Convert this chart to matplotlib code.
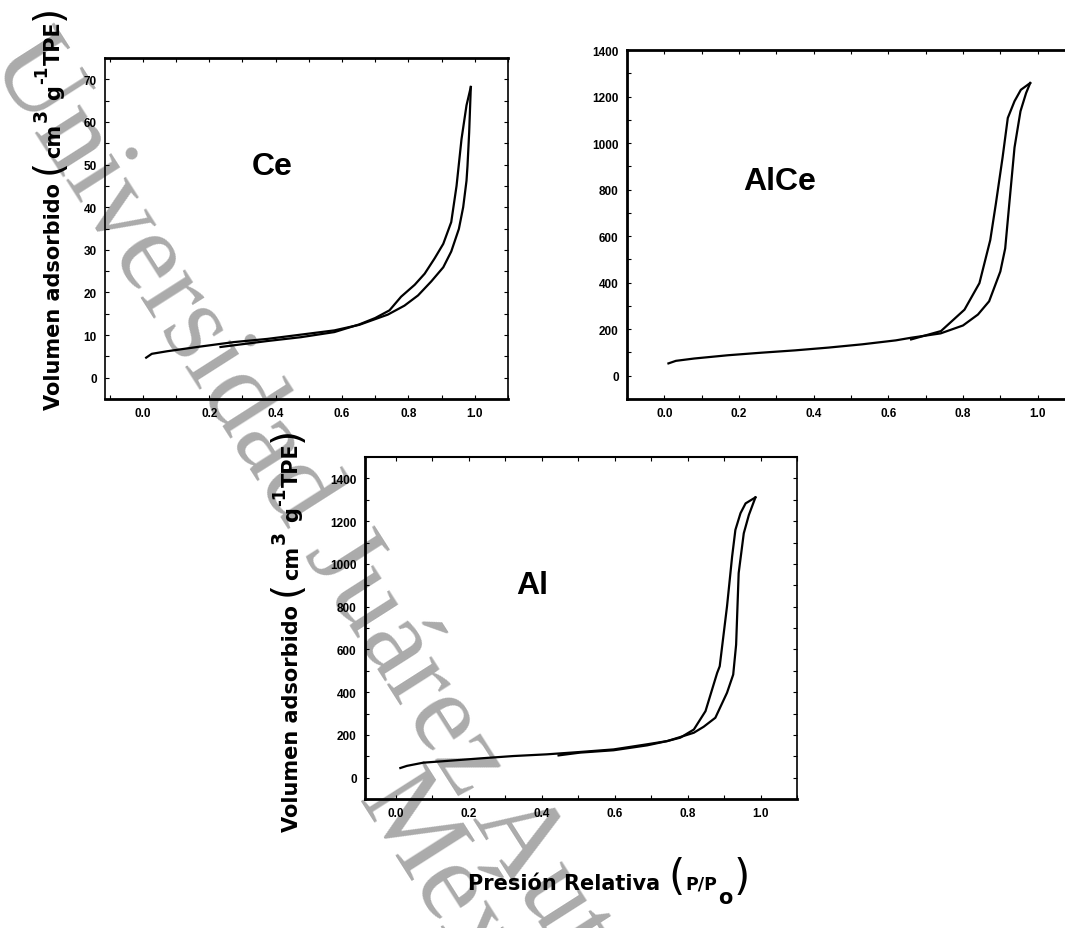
import numpy as np
import matplotlib
matplotlib.use("Agg")
import matplotlib.pyplot as plt
from matplotlib.ticker import MultipleLocator
from matplotlib.transforms import IdentityTransform

# Isotermas N2 (adsorcion / desorcion) de las tres muestras
ce_ads_p = [0.01, 0.027, 0.073, 0.173, 0.274, 0.375, 0.476, 0.577, 0.652, 0.738,
            0.788, 0.829, 0.869, 0.905, 0.929, 0.952, 0.965, 0.975, 0.978, 0.983, 0.988]
ce_ads_v = [4.7, 5.6, 6.2, 7.3, 8.35, 9.1, 10.1, 11.1, 12.4, 14.8,
            16.9, 19.3, 22.6, 25.9, 29.6, 34.9, 40.0, 46.2, 49.7, 57.5, 68.2]
ce_des_p = [0.988, 0.975, 0.96, 0.945, 0.929, 0.905, 0.879, 0.849, 0.819, 0.778,
            0.743, 0.70, 0.652, 0.577, 0.476, 0.375, 0.274, 0.234]
ce_des_v = [68.2, 63.9, 56.0, 45.0, 36.5, 31.4, 28.0, 24.4, 21.8, 19.0,
            15.8, 14.0, 12.5, 10.7, 9.5, 8.6, 7.6, 7.2]

alce_ads_p = [0.011, 0.031, 0.08, 0.17, 0.26, 0.35, 0.44, 0.53, 0.62, 0.66, 0.74,
              0.80, 0.84, 0.87, 0.90, 0.913, 0.924, 0.938, 0.954, 0.969, 0.98]
alce_ads_v = [53, 64, 74, 88, 99, 109, 121, 135, 152, 163, 182,
              216, 263, 320, 448, 547, 739, 981, 1137, 1215, 1258]
alce_des_p = [0.98, 0.955, 0.938, 0.92, 0.906, 0.888, 0.873, 0.844, 0.804, 0.741, 0.661]
alce_des_v = [1258, 1229, 1180, 1108, 938, 739, 583, 398, 284, 192, 156]

al_ads_p = [0.012, 0.03, 0.075, 0.139, 0.231, 0.322, 0.414, 0.505, 0.597, 0.689, 0.744,
            0.78, 0.817, 0.844, 0.876, 0.908, 0.925, 0.933, 0.94, 0.954, 0.968, 0.986]
al_ads_v = [45, 55, 70, 78, 90, 101, 109, 120, 132, 156, 171,
            190, 210, 238, 280, 397, 482, 622, 957, 1143, 1229, 1311]
al_des_p = [0.986, 0.959, 0.945, 0.931, 0.922, 0.908, 0.888, 0.881, 0.849, 0.817,
            0.78, 0.744, 0.689, 0.597, 0.505, 0.446]
al_des_v = [1311, 1283, 1237, 1159, 1034, 801, 521, 490, 311, 225,
            187, 171, 151, 128, 117, 104]

W, H = 1065, 929
fig = plt.figure(figsize=(W / 100, H / 100), dpi=100)
plt.rcParams["font.family"] = "Liberation Sans"


def px_rect(left, top, right, bottom):
    return [left / W, 1 - bottom / H, (right - left) / W, (bottom - top) / H]


def panel(rect, ads, des, xlim, ylim, ystep, ymax, name, name_xy, spine_w):
    ax = fig.add_axes(rect)
    ax.set_facecolor("none")
    ax.plot(ads[0], ads[1], color="black", lw=1.6)
    ax.plot(des[0], des[1], color="black", lw=1.6)
    ax.set_xlim(*xlim)
    ax.set_ylim(*ylim)
    xt = np.arange(0, 1.01, 0.2)
    ax.set_xticks(xt)
    ax.set_xticklabels([f"{v:.1f}" for v in xt])
    ax.set_yticks(np.arange(0, ymax + ystep / 2, ystep))
    ax.xaxis.set_minor_locator(MultipleLocator(0.1))
    ax.yaxis.set_minor_locator(MultipleLocator(ystep / 2))
    ax.tick_params(which="both", direction="in", top=True, right=True,
                   length=3, width=0.8, labelsize=8.5, pad=6)
    for lab in ax.get_xticklabels() + ax.get_yticklabels():
        lab.set_fontweight("bold")
    for side, w in spine_w.items():
        ax.spines[side].set_linewidth(w)
    ax.text(name_xy[0], name_xy[1], name, fontsize=23, fontweight="bold",
            ha="center", va="center")
    return ax


panel(px_rect(105, 59, 508, 400), (ce_ads_p, ce_ads_v), (ce_des_p, ce_des_v),
      (-0.114, 1.1), (-5, 75), 10, 70, "Ce", (0.39, 49.6),
      {"top": 2, "bottom": 2, "left": 1.2, "right": 1.2})
panel(px_rect(627, 51, 1075, 400), (alce_ads_p, alce_ads_v), (alce_des_p, alce_des_v),
      (-0.1, 1.1), (-100, 1400), 200, 1400, "AlCe", (0.31, 838),
      {"top": 2, "bottom": 2, "left": 2, "right": 1.2})
panel(px_rect(365, 458, 797, 800), (al_ads_p, al_ads_v), (al_des_p, al_des_v),
      (-0.085, 1.1), (-100, 1500), 200, 1400, "Al", (0.374, 902),
      {"top": 1.5, "bottom": 2, "left": 2, "right": 1.2})

renderer = fig.canvas.get_renderer()


def text_run(parts, x, y, vertical=False):
    # parts: (texto, tamano, peso, desplazamiento de linea base en px)
    pos = x if not vertical else H - y
    for s, size, weight, shift in parts:
        if vertical:
            t = fig.text(x - shift, pos, s, rotation=90, rotation_mode="anchor",
                         ha="left", va="baseline", fontsize=size, fontweight=weight,
                         family="DejaVu Sans", transform=IdentityTransform())
            pos = t.get_window_extent(renderer).y1 + 1
        else:
            t = fig.text(pos, H - y + shift, s, ha="left", va="baseline",
                         fontsize=size, fontweight=weight, family="DejaVu Sans",
                         transform=IdentityTransform())
            pos = t.get_window_extent(renderer).x1 + 1


ylabel_parts = [("Volumen adsorbido", 15, "bold", 0), (" ", 15, "bold", 0),
                ("(", 28, "normal", 0), ("cm", 15, "bold", 0), ("3", 13.5, "bold", 13),
                (" ", 15, "bold", 0), ("g", 15, "bold", 0), ("-1", 12, "bold", 13),
                ("TPE", 15, "bold", 0), (")", 28, "normal", 0)]
text_run(ylabel_parts, 60, 410, vertical=True)
text_run(ylabel_parts, 298, 832, vertical=True)

xlabel_parts = [("Presión Relativa ", 15, "bold", 0), ("(", 30, "normal", 0),
                ("P/P", 12.5, "bold", 0), ("o", 15, "bold", -14), (")", 30, "normal", 0)]
text_run(xlabel_parts, 468, 890)

# marca de agua institucional
for s, (px, py) in [("Universidad Juárez Autónoma de Tabasco", (-11, 60)),
                    ("México", (357, 800))]:
    fig.text(px, H - py, s, rotation=-57.5, rotation_mode="anchor", ha="left",
             va="baseline", fontsize=82, family="Liberation Serif", color="#ababab",
             transform=IdentityTransform(), zorder=-1)

fig.savefig("out.png", dpi=100)
